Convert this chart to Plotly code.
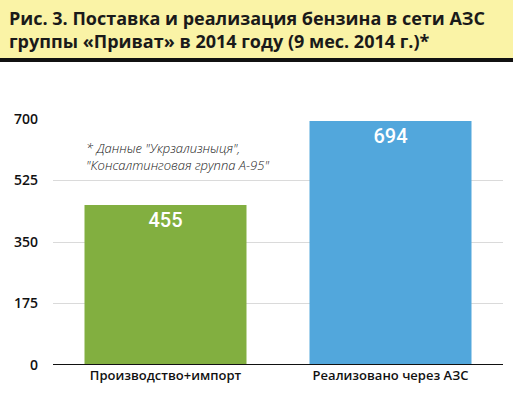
import plotly.graph_objects as go

categories = ["Производство+импорт", "Реализовано через АЗС"]
values = [455, 694]
bar_colors = ["#82AF40", "#52A7DC"]
tick_vals = [0, 175, 350, 525, 700]
title_lines = ["Рис. 3. Поставка и реализация бензина в сети АЗС",
               "группы «Приват» в 2014 году (9 мес. 2014 г.)*"]
note_text = "* Данные \"Укрзализныця\",<br>\"Консалтинговая группа А-95\""

W, H = 513, 398
ML, MR, MT, MB = 53, 10, 119, 33
PH = H - MT - MB

def py(ypix):
    return (H - MB - ypix) / PH

fig = go.Figure()
fig.add_trace(go.Bar(
    x=categories, y=values,
    marker=dict(color=bar_colors, line=dict(width=0)),
    text=[str(v) for v in values],
    textposition="inside", insidetextanchor="end",
    textfont=dict(family="Roboto", size=20, color="white", weight=500),
    width=0.72,
))

fig.update_layout(
    width=W, height=H,
    margin=dict(l=ML, r=MR, t=MT, b=MB, autoexpand=False),
    plot_bgcolor="white", paper_bgcolor="white",
    showlegend=False,
    yaxis=dict(range=[0, 700], tickvals=tick_vals, showgrid=True,
               gridcolor="#DADADA", gridwidth=1, zeroline=False, automargin=False,
               tickfont=dict(family="Open Sans", size=14, color="#111", weight=600),
               ticklabelstandoff=14, fixedrange=True),
    xaxis=dict(showgrid=False, showline=False, automargin=False,
               tickfont=dict(family="Open Sans", size=13, color="#111", weight=600),
               ticklabelstandoff=1),
    shapes=[
        dict(type="rect", xref="paper", yref="paper",
             x0=-ML / (W - ML - MR), x1=1 + MR / (W - ML - MR),
             y0=py(58), y1=py(0), fillcolor="#FAF3A6", line=dict(width=0), layer="below"),
        dict(type="rect", xref="paper", yref="paper",
             x0=-ML / (W - ML - MR), x1=1 + MR / (W - ML - MR),
             y0=py(62), y1=py(58), fillcolor="#111111", line=dict(width=0)),
        dict(type="line", xref="paper", yref="y", x0=0, x1=1, y0=0, y1=0,
             line=dict(color="#111111", width=2)),
    ],
    annotations=[
        dict(text="<b>" + title_lines[0] + "<br>" + title_lines[1] + "</b>",
             xref="paper", yref="paper", x=-(ML - 7) / (W - ML - MR), y=py(4),
             xanchor="left", yanchor="top", align="left", showarrow=False,
             font=dict(family="Open Sans", size=18, color="#1a1a1a", weight=800)),
        dict(text="<i>" + note_text + "</i>", xref="paper", yref="paper",
             x=(84 - ML) / (W - ML - MR), y=py(137), xanchor="left", yanchor="top",
             align="left", showarrow=False,
             font=dict(family="Open Sans", size=13, color="#222", weight=300)),
    ],
)
fig.write_html("out.html", config={"displayModeBar": False},
               post_script="document.body.style.margin='0';document.body.style.overflow='hidden';")
